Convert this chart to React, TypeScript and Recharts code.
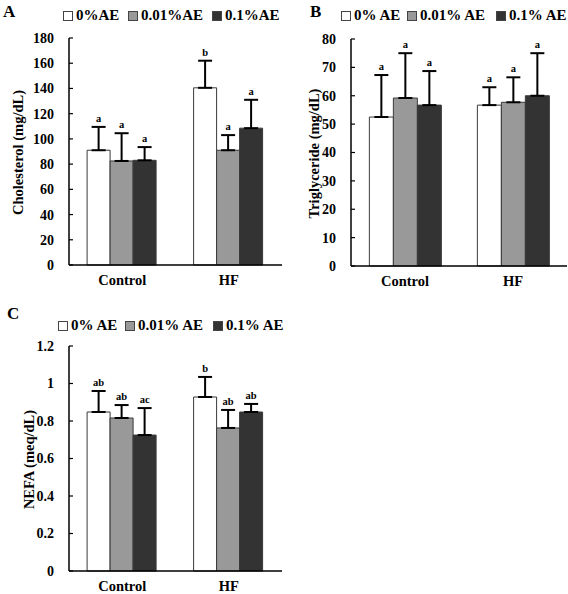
import React from 'react';
import { BarChart, Bar, XAxis, YAxis, ErrorBar, LabelList } from 'recharts';

const FONT = '"Liberation Serif", "Times New Roman", Times, serif';

const categories = ['Control', 'HF'];
const seriesNamesA = ['0%AE', '0.01%AE', '0.1%AE'];
const seriesNamesBC = ['0% AE', '0.01% AE', '0.1% AE'];
const seriesFills = ['#ffffff', '#999999', '#333333'];

// Panel A: Cholesterol (mg/dL)
const cholesterol0 = [91, 140.5];
const cholesterol001 = [82.5, 91];
const cholesterol01 = [83, 108.5];
const cholesterolErr0 = [18.5, 21.5];
const cholesterolErr001 = [22, 12];
const cholesterolErr01 = [10.5, 22.5];
const cholesterolLetters0 = ['a', 'b'];
const cholesterolLetters001 = ['a', 'a'];
const cholesterolLetters01 = ['a', 'a'];
const cholesterolTicks = [0, 20, 40, 60, 80, 100, 120, 140, 160, 180];

// Panel B: Triglyceride (mg/dL)
const triglyceride0 = [52.5, 56.7];
const triglyceride001 = [59.2, 57.7];
const triglyceride01 = [56.7, 60];
const triglycerideErr0 = [14.8, 6.3];
const triglycerideErr001 = [15.8, 8.8];
const triglycerideErr01 = [12, 15];
const triglycerideLetters0 = ['a', 'a'];
const triglycerideLetters001 = ['a', 'a'];
const triglycerideLetters01 = ['a', 'a'];
const triglycerideTicks = [0, 10, 20, 30, 40, 50, 60, 70, 80];

// Panel C: NEFA (meq/dL)
const nefa0 = [0.848, 0.928];
const nefa001 = [0.816, 0.763];
const nefa01 = [0.725, 0.848];
const nefaErr0 = [0.112, 0.107];
const nefaErr001 = [0.069, 0.096];
const nefaErr01 = [0.144, 0.043];
const nefaLetters0 = ['ab', 'b'];
const nefaLetters001 = ['ab', 'ab'];
const nefaLetters01 = ['ac', 'ab'];
const nefaTicks = [0, 0.2, 0.4, 0.6, 0.8, 1, 1.2];

function makeRows(m0, m1, m2, e0, e1, e2, l0, l1, l2) {
  return categories.map((c, i) => ({
    name: c,
    m0: m0[i], m1: m1[i], m2: m2[i],
    e0: [0, e0[i]], e1: [0, e1[i]], e2: [0, e2[i]],
    r0: e0[i], r1: e1[i], r2: e2[i],
    l0: l0[i], l1: l1[i], l2: l2[i],
  }));
}

const rowsA = makeRows(cholesterol0, cholesterol001, cholesterol01, cholesterolErr0, cholesterolErr001, cholesterolErr01, cholesterolLetters0, cholesterolLetters001, cholesterolLetters01);
const rowsB = makeRows(triglyceride0, triglyceride001, triglyceride01, triglycerideErr0, triglycerideErr001, triglycerideErr01, triglycerideLetters0, triglycerideLetters001, triglycerideLetters01);
const rowsC = makeRows(nefa0, nefa001, nefa01, nefaErr0, nefaErr001, nefaErr01, nefaLetters0, nefaLetters001, nefaLetters01);

function letterLabel(rows, k) {
  return (props) => {
    const { x, y, width, height, value, index } = props;
    const row = rows[index];
    if (!row) return null;
    const ppu = Number(height) / Number(value);
    const top = Number(y) - row['r' + k] * ppu;
    return (
      <text x={Number(x) + Number(width) / 2} y={top - 5} textAnchor="middle" fontSize={10.5} fontWeight="bold" fontFamily={FONT} fill="#000">
        {row['l' + k]}
      </text>
    );
  };
}

function YLabel({ viewBox, text, cx }) {
  const cy = viewBox.y + viewBox.height / 2 + 1;
  return (
    <text x={cx} y={cy} transform={`rotate(-90, ${cx}, ${cy})`} textAnchor="middle" dominantBaseline="central" fontSize={14.5} fontWeight="bold" fontFamily={FONT} fill="#000">
      {text}
    </text>
  );
}

function Panel({ rows, ticks, yLabel, labelX, width, height, margin, yWidth }) {
  const domain = [ticks[0], ticks[ticks.length - 1]];
  const axisStyle = { stroke: '#000', strokeWidth: 1.5 };
  return (
    <BarChart width={width} height={height} data={rows} margin={margin} barCategoryGap="17%" barGap={0}>
      <XAxis dataKey="name" xAxisId={0} axisLine={axisStyle} tickLine={false} tickSize={6} tickMargin={4} height={30}
        tick={{ fill: '#000', fontSize: 14.5, fontWeight: 'bold', fontFamily: FONT }} />
      <XAxis dataKey="name" xAxisId="top" orientation="top" axisLine={axisStyle} tick={false} tickLine={false} height={0} />
      <YAxis yAxisId={0} domain={domain} ticks={ticks} interval={0} width={yWidth} axisLine={axisStyle}
        tickLine={{ stroke: '#000', strokeWidth: 1.2 }} tickSize={-4} tickMargin={19}
        tick={{ fill: '#000', fontSize: 14, fontWeight: 'bold', fontFamily: FONT }}
        label={{ content: (p) => <YLabel viewBox={p.viewBox} text={yLabel} cx={labelX} /> }} />
      <YAxis yAxisId="right" orientation="right" domain={domain} ticks={ticks} width={0} axisLine={axisStyle} tick={false} tickLine={false} />
      {[0, 1, 2].map((k) => (
        <Bar key={k} dataKey={'m' + k} xAxisId={0} yAxisId={0} fill={seriesFills[k]} stroke="#3a3a3a" strokeWidth={1} isAnimationActive={false}>
          <ErrorBar dataKey={'e' + k} direction="y" width={7} stroke="#000" strokeWidth={2} isAnimationActive={false} />
          <LabelList dataKey={'m' + k} content={letterLabel(rows, k)} />
        </Bar>
      ))}
    </BarChart>
  );
}

function Legend({ names, xs, top }) {
  return (
    <>
      {names.map((n, i) => (
        <div key={n} style={{ position: 'absolute', left: xs[i], top, display: 'flex', alignItems: 'center', fontFamily: FONT, fontWeight: 'bold', fontSize: 15, lineHeight: '15px', color: '#000', whiteSpace: 'nowrap' }}>
          <span style={{ display: 'inline-block', width: 8, height: 8, background: seriesFills[i], border: '1px solid #444', marginRight: 3 }} />
          <span>{n}</span>
        </div>
      ))}
    </>
  );
}

function PanelLetter({ text, left, top }) {
  return (
    <div style={{ position: 'absolute', left, top, fontFamily: FONT, fontWeight: 'bold', fontSize: 17, lineHeight: '17px', color: '#000' }}>{text}</div>
  );
}

export default function App() {
  return (
    <div style={{ position: 'absolute', left: 0, top: 0, width: 568, height: 594, background: '#fff', overflow: 'hidden' }}>
      <div style={{ position: 'absolute', left: 0, top: 0 }}>
        <Panel rows={rowsA} ticks={cholesterolTicks} yLabel="Cholesterol (mg/dL)" labelX={17.5} width={284} height={300}
          margin={{ top: 38, right: 2, left: 0, bottom: 5 }} yWidth={69} />
      </div>
      <div style={{ position: 'absolute', left: 284, top: 0 }}>
        <Panel rows={rowsB} ticks={triglycerideTicks} yLabel="Triglyceride (mg/dL)" labelX={30} width={284} height={300}
          margin={{ top: 39, right: 1, left: 0, bottom: 4 }} yWidth={67} />
      </div>
      <div style={{ position: 'absolute', left: 0, top: 300 }}>
        <Panel rows={rowsC} ticks={nefaTicks} yLabel="NEFA (meq/dL)" labelX={29} width={284} height={294}
          margin={{ top: 46, right: 2, left: 0, bottom: -7 }} yWidth={69} />
      </div>
      <PanelLetter text="A" left={3} top={3} />
      <PanelLetter text="B" left={310} top={3} />
      <PanelLetter text="C" left={7} top={305} />
      <Legend names={seriesNamesA} xs={[63, 128, 212]} top={8} />
      <Legend names={seriesNamesBC} xs={[341, 407, 496]} top={8} />
      <Legend names={seriesNamesBC} xs={[58, 125, 213]} top={318} />
    </div>
  );
}
